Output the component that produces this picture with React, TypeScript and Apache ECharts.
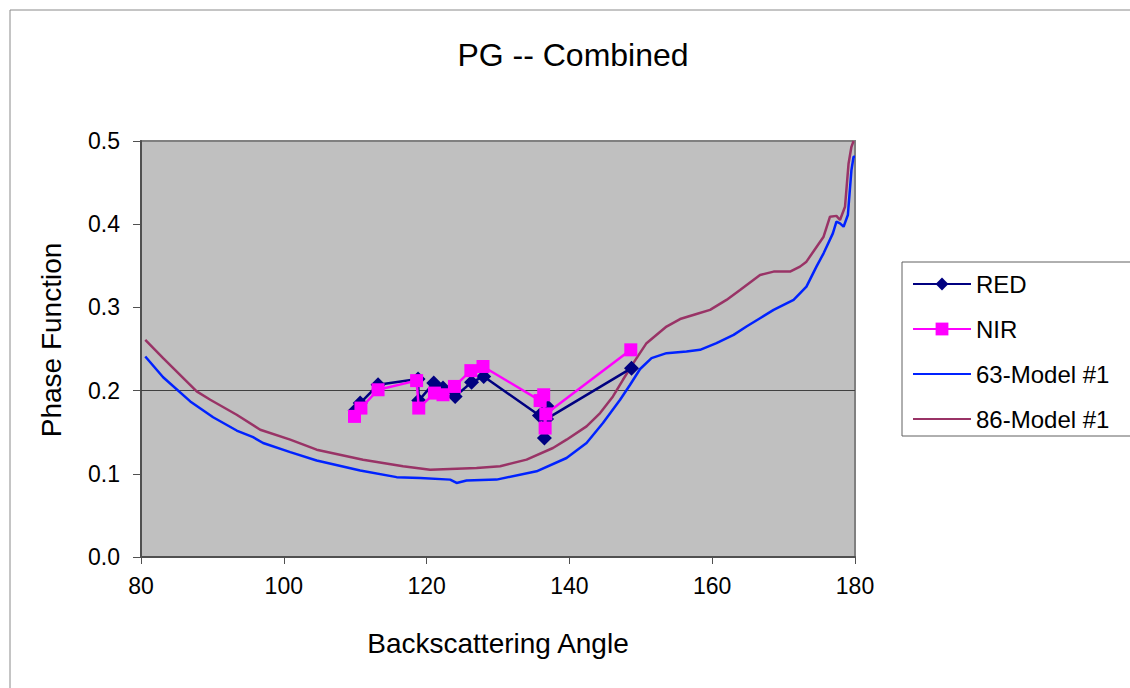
import React, { useEffect, useRef } from "react";
import * as echarts from "echarts";

const titleText = "PG -- Combined";
const xName = "Backscattering Angle";
const yName = "Phase Function";

const redPoints: [number, number][] = [
  [110.0, 0.176], [110.7, 0.185], [113.2, 0.207], [118.8, 0.214], [118.9, 0.188],
  [121.0, 0.209], [122.3, 0.203], [124.0, 0.193], [126.3, 0.21], [128.0, 0.217],
  [135.8, 0.17], [137.0, 0.18], [136.5, 0.143], [136.8, 0.166], [148.7, 0.227],
];

const nirPoints: [number, number][] = [
  [109.9, 0.169], [110.8, 0.179], [113.2, 0.201], [118.6, 0.212], [118.9, 0.179],
  [121.1, 0.197], [122.3, 0.195], [123.9, 0.205], [126.2, 0.224], [127.9, 0.229],
  [135.9, 0.188], [136.4, 0.195], [136.6, 0.155], [136.7, 0.172], [148.6, 0.249],
];

const model63: [number, number][] = [
  [80.6, 0.241], [83.1, 0.216], [86.9, 0.187], [90.1, 0.168], [93.4, 0.152],
  [95.7, 0.144], [97.1, 0.137], [100.9, 0.126], [104.6, 0.116], [110.7, 0.104],
  [115.8, 0.096], [119.1, 0.095], [123.3, 0.093], [124.2, 0.089], [125.6, 0.092],
  [129.8, 0.093], [135.4, 0.103], [139.6, 0.119], [142.4, 0.137], [144.7, 0.161],
  [147.1, 0.189], [148.5, 0.207], [149.9, 0.226], [151.5, 0.239], [153.6, 0.245],
  [156.4, 0.247], [158.3, 0.249], [160.6, 0.257], [163.0, 0.267], [164.8, 0.277],
  [166.7, 0.287], [168.6, 0.297], [171.4, 0.309], [173.2, 0.325], [174.6, 0.349],
  [175.6, 0.365], [176.9, 0.389], [177.4, 0.403], [177.9, 0.401], [178.4, 0.397],
  [179.0, 0.411], [179.5, 0.465], [179.8, 0.481], [180.0, 0.481],
];

const model86: [number, number][] = [
  [80.6, 0.261], [83.1, 0.239], [87.8, 0.199], [89.7, 0.189], [93.4, 0.171],
  [96.7, 0.153], [100.9, 0.141], [104.6, 0.129], [111.1, 0.117], [116.7, 0.109],
  [120.5, 0.105], [127.0, 0.107], [130.3, 0.109], [134.0, 0.117], [137.7, 0.131],
  [139.6, 0.141], [142.4, 0.157], [144.3, 0.173], [146.1, 0.193], [147.5, 0.213],
  [148.95, 0.233], [150.8, 0.257], [153.6, 0.277], [155.5, 0.286], [157.8, 0.292],
  [159.7, 0.297], [162.0, 0.309], [163.9, 0.321], [166.7, 0.339], [168.6, 0.343],
  [170.9, 0.343], [172.3, 0.349], [173.2, 0.355], [175.6, 0.385], [176.5, 0.409],
  [177.4, 0.41], [177.9, 0.405], [178.6, 0.421], [179.1, 0.473], [179.5, 0.493],
  [179.8, 0.5],
];

const FONT = "'Liberation Sans', Arial, Helvetica, sans-serif";

export default function App() {
  const ref = useRef<HTMLDivElement>(null);
  useEffect(() => {
    if (!ref.current) return;
    const chart = echarts.init(ref.current, undefined, { renderer: "svg" });
    chart.setOption({
      animation: false,
      backgroundColor: "#ffffff",
      textStyle: { fontFamily: FONT, color: "#000" },
      graphic: [
        {
          type: "rect",
          shape: { x: 10, y: 10, width: 1140, height: 700 },
          style: { fill: "none", stroke: "#8a8a8a", lineWidth: 1 },
          silent: true,
        },
        {
          type: "text",
          x: 573,
          y: 55,
          style: {
            text: titleText,
            fontSize: 32,
            fontFamily: FONT,
            fill: "#000",
            align: "center",
            verticalAlign: "middle",
          },
        },
      ],
      grid: {
        left: 141,
        top: 141,
        right: 275,
        bottom: 131,
        show: true,
        backgroundColor: "#c0c0c0",
        borderColor: "#808080",
        borderWidth: 2,
      },
      legend: {
        orient: "vertical",
        left: 902,
        top: 262,
        padding: [10, 22, 5, 10],
        itemGap: 21,
        itemWidth: 58,
        itemHeight: 16,
        borderColor: "#606060",
        borderWidth: 1,
        backgroundColor: "#ffffff",
        textStyle: { fontSize: 24, lineHeight: 24, fontFamily: FONT, color: "#000" },
        data: [
          { name: "RED" },
          { name: "NIR" },
          { name: "63-Model #1", itemStyle: { opacity: 0 } },
          { name: "86-Model #1", itemStyle: { opacity: 0 } },
        ],
      },
      xAxis: {
        type: "value",
        min: 80,
        max: 180,
        interval: 20,
        name: xName,
        nameLocation: "middle",
        nameGap: 72,
        nameTextStyle: { fontSize: 28, fontFamily: FONT, color: "#000" },
        axisLine: { show: true, onZero: false, lineStyle: { color: "#505050", width: 2 } },
        axisTick: { show: true, length: 7, lineStyle: { color: "#505050", width: 1 } },
        axisLabel: { fontSize: 23, margin: 17, color: "#000", fontFamily: FONT },
        splitLine: { show: false },
      },
      yAxis: {
        type: "value",
        min: 0,
        max: 0.5,
        interval: 0.1,
        name: yName,
        nameLocation: "middle",
        nameGap: 76,
        nameTextStyle: { fontSize: 28, fontFamily: FONT, color: "#000", padding: [0, 0, 0, 18] },
        axisLine: { show: true, lineStyle: { color: "#505050", width: 2 } },
        axisTick: { show: true, length: 8, lineStyle: { color: "#505050", width: 1 } },
        axisLabel: {
          fontSize: 23,
          margin: 21,
          color: "#000",
          fontFamily: FONT,
          formatter: (v: number) => v.toFixed(1),
        },
        splitLine: { show: false },
      },
      series: [
        {
          name: "63-Model #1",
          type: "line",
          data: model63,
          symbol: "none",
          showSymbol: false,
          lineStyle: { color: "#0022ff", width: 2.5 },
          itemStyle: { color: "#0022ff" },
          z: 2,
          markLine: {
            silent: true,
            symbol: "none",
            label: { show: false },
            lineStyle: { color: "#404040", width: 1, type: "solid" },
            data: [{ yAxis: 0.2 }],
            z: 1,
          },
        },
        {
          name: "86-Model #1",
          type: "line",
          data: model86,
          symbol: "none",
          showSymbol: false,
          lineStyle: { color: "#993366", width: 2.5 },
          itemStyle: { color: "#993366" },
          z: 3,
        },
        {
          name: "RED",
          type: "line",
          data: redPoints,
          symbol: "diamond",
          symbolSize: 15,
          lineStyle: { color: "#000080", width: 2.5 },
          itemStyle: { color: "#000080" },
          z: 4,
        },
        {
          name: "NIR",
          type: "line",
          data: nirPoints,
          symbol: "rect",
          symbolSize: 13,
          lineStyle: { color: "#ff00ff", width: 2.5 },
          itemStyle: { color: "#ff00ff" },
          z: 5,
        },
      ],
    });
    return () => chart.dispose();
  }, []);
  return (
    <div
      ref={ref}
      style={{ position: "fixed", left: 0, top: 0, width: 1130, height: 688 }}
    />
  );
}
